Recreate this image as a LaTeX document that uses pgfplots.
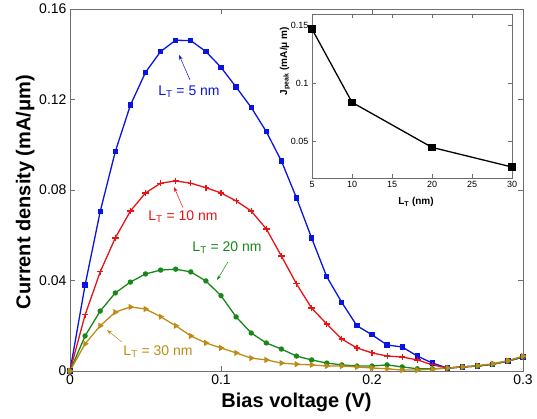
\documentclass[border=0pt]{standalone}
\usepackage{pgfplots}
\pgfplotsset{compat=1.18}
\usepackage{fontspec}
\setmainfont{Liberation Sans}
\usetikzlibrary{arrows.meta}

\definecolor{cblue}{RGB}{10,20,225}
\definecolor{cred}{RGB}{230,20,20}
\definecolor{cgreen}{RGB}{25,135,25}
\definecolor{cgold}{RGB}{190,140,20}
\definecolor{cbox}{RGB}{110,110,110}

% current density vs bias, one table per thickness
\pgfplotstableread{
V J
0 0
0.01 0.0380
0.02 0.0705
0.03 0.0970
0.04 0.1175
0.05 0.1320
0.06 0.1412
0.07 0.1462
0.08 0.1460
0.09 0.1412
0.10 0.1342
0.11 0.1255
0.12 0.1165
0.13 0.1058
0.14 0.0928
0.15 0.0765
0.16 0.0588
0.17 0.0417
0.18 0.0303
0.19 0.0200
0.20 0.0160
0.21 0.0115
0.22 0.0106
0.23 0.0066
0.24 0.0035
0.25 0.0013
0.26 0.0018
0.27 0.0022
0.28 0.0030
0.29 0.0044
0.30 0.0062
}\tfive
\pgfplotstableread{
V J
0 0
0.01 0.0248
0.02 0.0438
0.03 0.0588
0.04 0.0707
0.05 0.0787
0.06 0.0830
0.07 0.0840
0.08 0.0830
0.09 0.0810
0.10 0.0787
0.11 0.0752
0.12 0.0707
0.13 0.0628
0.14 0.0508
0.15 0.0385
0.16 0.0278
0.17 0.0208
0.18 0.0141
0.19 0.0102
0.20 0.0080
0.21 0.0066
0.22 0.0062
0.23 0.0049
0.24 0.0027
0.25 0.0013
0.26 0.0018
0.27 0.0022
0.28 0.0030
0.29 0.0044
0.30 0.0062
}\tten
\pgfplotstableread{
V J
0 0
0.01 0.0155
0.02 0.0265
0.03 0.0345
0.04 0.0393
0.05 0.0429
0.06 0.0446
0.07 0.0450
0.08 0.0438
0.09 0.0398
0.10 0.0333
0.11 0.0239
0.12 0.0168
0.13 0.0124
0.14 0.0097
0.15 0.0066
0.16 0.0049
0.17 0.0035
0.18 0.0027
0.19 0.0022
0.20 0.0022
0.21 0.0027
0.22 0.0018
0.23 0.0010
0.24 0.0010
0.25 0.0013
0.26 0.0018
0.27 0.0022
0.28 0.0030
0.29 0.0044
0.30 0.0062
}\ttwenty
\pgfplotstableread{
V J
0 0
0.01 0.0120
0.02 0.0200
0.03 0.0260
0.04 0.0283
0.05 0.0274
0.06 0.0240
0.07 0.0200
0.08 0.0155
0.09 0.0124
0.10 0.0102
0.11 0.0080
0.12 0.0057
0.13 0.0049
0.14 0.0035
0.15 0.0030
0.16 0.0027
0.17 0.0022
0.18 0.0022
0.19 0.0018
0.20 0.0013
0.21 0.0010
0.22 0.0004
0.23 0.0004
0.24 0.0008
0.25 0.0013
0.26 0.0018
0.27 0.0024
0.28 0.0032
0.29 0.0046
0.30 0.0066
}\tthirty

\begin{document}
\begin{tikzpicture}
\path[use as bounding box] (0pt,0pt) rectangle (537pt,419pt);

\begin{axis}[
    at={(70pt,48pt)}, anchor=south west,
    width=453pt, height=362pt, scale only axis,
    xmin=0, xmax=0.3, ymin=0, ymax=0.16,
    xtick={0,0.1,0.2,0.3}, xticklabels={0,0.1,0.2,0.3},
    ytick={0,0.04,0.08,0.12,0.16}, yticklabels={0,0.04,0.08,0.12,0.16},
    tick align=inside, major tick length=5pt,
    axis line style={cbox}, every tick/.style={cbox},
    ticklabel style={font=\fontsize{14}{16}\selectfont},
    xlabel={Bias voltage (V)}, ylabel={Current density (mA/μm)},
    label style={font=\fontsize{20}{23}\selectfont\bfseries},
    xlabel style={at={(axis description cs:0.5,-0.088)}, anchor=center},
    ylabel style={at={(axis description cs:-0.099,0.494)}, anchor=center, rotate=0},
    clip=false,
    every axis plot/.append style={line width=1.3pt},
]
\addplot[cblue, mark=square*, mark size=2pt] table {\tfive};
\addplot[cred, mark=+, mark size=3.2pt, mark options={line width=1.2pt}] table {\tten};
\addplot[cgreen, mark=*, mark size=2pt] table {\ttwenty};
\addplot[cgold, mark=triangle*, mark size=2.4pt, mark options={rotate=-90}] table {\tthirty};

\node[cblue, font=\fontsize{14}{16}\selectfont] at (axis cs:0.0788,0.1233) {L\textsubscript{T} = 5 nm};
\draw[cblue, line width=0.5pt, -{Stealth[length=5pt,width=3.5pt]}] (axis cs:0.0795,0.1286) -- (axis cs:0.0722,0.1397);
\node[cred, font=\fontsize{14}{16}\selectfont] at (axis cs:0.0748,0.0681) {L\textsubscript{T} = 10 nm};
\draw[cred, line width=0.5pt, -{Stealth[length=5pt,width=3.5pt]}] (axis cs:0.0748,0.0722) -- (axis cs:0.0689,0.0813);
\node[cgreen, font=\fontsize{14}{16}\selectfont] at (axis cs:0.1040,0.0544) {L\textsubscript{T} = 20 nm};
\draw[cgreen, line width=0.5pt, -{Stealth[length=5pt,width=3.5pt]}] (axis cs:0.1046,0.0482) -- (axis cs:0.0974,0.0402);
\node[cgold, font=\fontsize{14}{16}\selectfont] at (axis cs:0.0583,0.0084) {L\textsubscript{T} = 30 nm};
\draw[cgold, line width=0.5pt, -{Stealth[length=5pt,width=3.5pt]}] (axis cs:0.0344,0.0128) -- (axis cs:0.0245,0.0181);
\end{axis}

% inset: peak current vs thickness
\begin{axis}[
    at={(312pt,241pt)}, anchor=south west,
    width=200pt, height=164pt, scale only axis,
    xmin=5, xmax=30, ymin=0.018, ymax=0.16,
    xtick={5,10,15,20,25,30},
    ytick={0.05,0.1,0.15}, yticklabels={0.05,0.1,0.15},
    tick align=inside, major tick length=4pt,
    axis line style={cbox}, every tick/.style={cbox},
    axis background/.style={fill=white},
    ticklabel style={font=\fontsize{9}{11}\selectfont},
    /pgf/number format/assume math mode=true,
    xlabel={L\textsubscript{T} (nm)}, ylabel={J\textsubscript{peak} (mA/μ m)},
    label style={font=\fontsize{10}{12}\selectfont\bfseries},
    xlabel style={at={(axis description cs:0.52,-0.146)}, anchor=center},
    ylabel style={at={(axis description cs:-0.135,0.713)}, anchor=center, rotate=0},
    clip=false,
]
\addplot[black, line width=1.3pt, mark=square*, mark size=3pt] coordinates {
(5,0.147) (10,0.0835) (20,0.0445) (30,0.0275)
};
\end{axis}
\end{tikzpicture}
\end{document}
